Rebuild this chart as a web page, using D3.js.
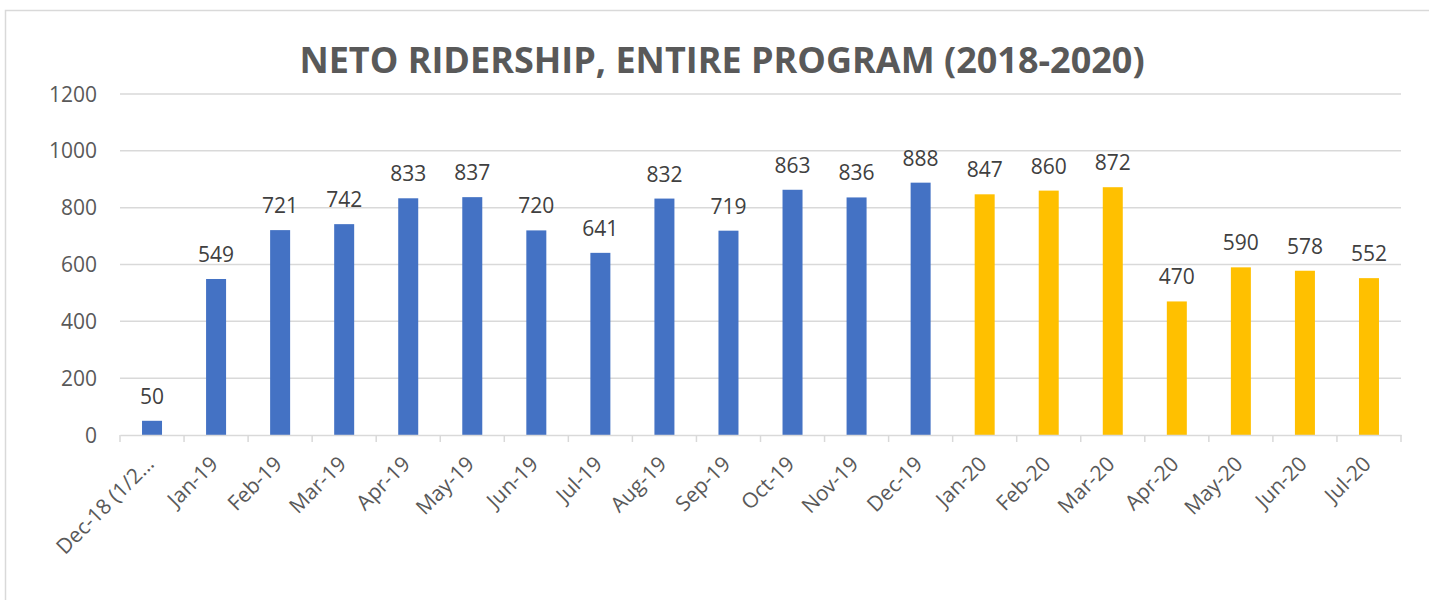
<!DOCTYPE html>
<html>
<head>
<meta charset="utf-8">
<script src="https://cdn.jsdelivr.net/npm/d3@7"></script>
<style>
  body { margin: 0; background: #fff; }
  text { font-family: "Open Sans", sans-serif; }
</style>
</head>
<body>
<svg id="chart"></svg>
<script>
// data
var months = ["Dec-18 (1/2\u2026", "Jan-19", "Feb-19", "Mar-19", "Apr-19", "May-19", "Jun-19", "Jul-19",
  "Aug-19", "Sep-19", "Oct-19", "Nov-19", "Dec-19", "Jan-20", "Feb-20", "Mar-20",
  "Apr-20", "May-20", "Jun-20", "Jul-20"];
var riders = [50, 549, 721, 742, 833, 837, 720, 641, 832, 719, 863, 836, 888, 847, 860, 872, 470, 590, 578, 552];
var years = ["2018", "2019", "2019", "2019", "2019", "2019", "2019", "2019", "2019", "2019", "2019", "2019", "2019",
  "2020", "2020", "2020", "2020", "2020", "2020", "2020"];
var yTicks = [0, 200, 400, 600, 800, 1000, 1200];

var W = 1429, H = 600;
var margin = { top: 94, right: 28, bottom: 165, left: 120 },
    width = W - margin.left - margin.right,
    height = H - margin.top - margin.bottom;

var svg = d3.select("#chart").attr("width", W).attr("height", H);

// outer frame
svg.append("rect").attr("x", 5.5).attr("y", 10.5).attr("width", W + 10).attr("height", H + 10)
  .attr("fill", "none").attr("stroke", "#d9d9d9").attr("stroke-width", 1.5);

svg.append("text").attr("x", 722).attr("y", 73).attr("text-anchor", "middle")
  .style("font-size", "36px").style("font-weight", "bold").attr("fill", "#595959")
  .text("NETO RIDERSHIP, ENTIRE PROGRAM (2018-2020)");

var g = svg.append("g").attr("transform", "translate(" + margin.left + "," + margin.top + ")");

var x = d3.scaleBand().domain(months).range([0, width]);
var y = d3.scaleLinear().domain([0, 1200]).range([height, 0]);

// gridlines
g.selectAll(".grid").data(yTicks.filter(d => d > 0)).enter().append("line")
  .attr("x1", 0).attr("x2", width)
  .attr("y1", d => y(d)).attr("y2", d => y(d))
  .attr("stroke", "#d9d9d9").attr("stroke-width", 1.5);

// y labels
g.selectAll(".ylab").data(yTicks).enter().append("text")
  .attr("x", -23).attr("y", d => y(d)).attr("dy", "0.36em")
  .attr("text-anchor", "end").style("font-size", "21px").attr("fill", "#595959")
  .text(d => d);

// bars
var bw = 20;
g.selectAll(".bar").data(riders).enter().append("rect")
  .attr("x", (d, i) => x(months[i]) + x.bandwidth() / 2 - bw / 2)
  .attr("y", d => y(d))
  .attr("width", bw)
  .attr("height", d => height - y(d))
  .attr("fill", (d, i) => years[i] === "2020" ? "#ffc000" : "#4472c4");

// value labels
g.selectAll(".val").data(riders).enter().append("text")
  .attr("x", (d, i) => x(months[i]) + x.bandwidth() / 2)
  .attr("y", d => y(d) - 17)
  .attr("text-anchor", "middle").style("font-size", "21px").attr("fill", "#404040")
  .text(d => d);

// x axis
var xAxis = d3.axisBottom(x).tickSize(0).tickFormat("");
var ax = g.append("g").attr("transform", "translate(0," + height + ")").call(xAxis);
ax.select(".domain").attr("stroke", "#d9d9d9").attr("stroke-width", 1.5);
var bounds = months.map(m => x(m)).concat([width]);
ax.selectAll(".tk").data(bounds).enter().append("line")
  .attr("x1", d => d).attr("x2", d => d).attr("y1", 0).attr("y2", 7)
  .attr("stroke", "#d9d9d9").attr("stroke-width", 1.5);

ax.selectAll(".xlab").data(months).enter().append("text")
  .attr("transform", d => "translate(" + (x(d) + x.bandwidth() / 2 - 2) + ",25) rotate(-45)")
  .attr("text-anchor", "end").attr("dy", "0.35em")
  .style("font-size", "21px").attr("fill", "#595959")
  .text(d => d);
</script>
</body>
</html>
